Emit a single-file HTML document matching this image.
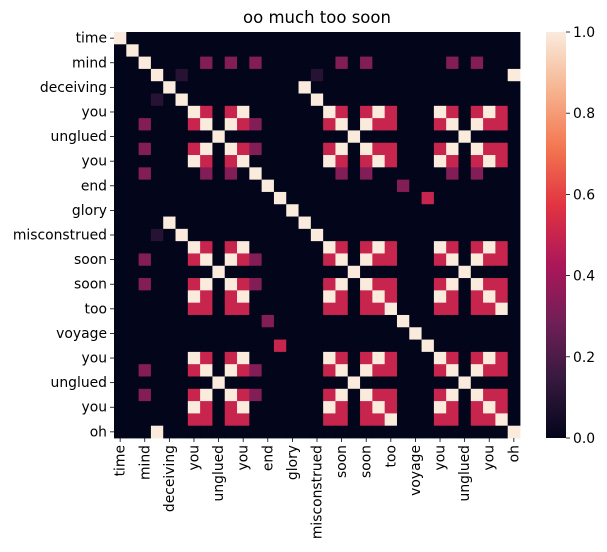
<!DOCTYPE html>
<html><head><meta charset="utf-8"><style>
html,body{margin:0;padding:0;background:#fff;}
svg{display:block;font-family:"DejaVu Sans","Liberation Sans",sans-serif;}
</style></head><body>
<svg id="chart" width="607" height="552" viewBox="0 0 607 552" xmlns="http://www.w3.org/2000/svg">
<rect width="607" height="552" fill="#fff"/>
<text x="317" y="23" text-anchor="middle" font-size="16.5" fill="#000">oo much too soon</text>
<g id="cells"></g>
<g id="yaxis"></g>
<g id="xaxis"></g>
<defs><linearGradient id="cbgrad" x1="0" y1="1" x2="0" y2="0"></linearGradient></defs>
<g id="cbar"></g>
</svg>
<script>
const words = ["time","is","mind","oh","deceiving","misconstrued","you","soon","unglued","soon","you","noon","end","gory","glory","deceiving","misconstrued","you","soon","unglued","soon","you","too","blend","voyage","joy","you","soon","unglued","soon","you","too","oh"];
const youIdx = [6,10,17,21,26,30];
const soonIdx = [7,9,18,20,27,29];
const ungluedIdx = [8,19,28];
const tooIdx = [22,31];
const mindIdx = [2];
const noonIdx = [11];
const groupPairs = [["you","you",1],["soon","soon",1],["unglued","unglued",1],["too","too",1],["you","soon",0.5],["you","too",0.5],["soon","too",0.5],["mind","soon",0.33],["noon","soon",0.33],["mind","noon",0.33]];
const singlePairs = [[3,32,1],[4,15,1],[5,16,1],[3,5,0.1],[3,16,0.1],[12,23,0.33],[13,25,0.5]];
const cbTicks = [0,0.2,0.4,0.6,0.8,1.0];
const cbTickLabels = ["0.0","0.2","0.4","0.6","0.8","1.0"];

const groups = {you:youIdx, soon:soonIdx, unglued:ungluedIdx, too:tooIdx, mind:mindIdx, noon:noonIdx};
const N = words.length;
const M = [];
for (let i=0;i<N;i++){ M.push(new Array(N).fill(0)); M[i][i]=1; }
groupPairs.forEach(([a,b,v])=>{ groups[a].forEach(i=>groups[b].forEach(j=>{ M[i][j]=v; M[j][i]=v; })); });
singlePairs.forEach(([i,j,v])=>{ M[i][j]=v; M[j][i]=v; });

const stops = [[0,[3,5,26]],[1/7,[53,25,62]],[2/7,[112,31,87]],[3/7,[173,23,89]],[4/7,[225,51,66]],[5/7,[243,118,81]],[6/7,[246,180,143]],[1,[250,235,221]]];
function cmap(v){
  for(let k=0;k<stops.length-1;k++){
    const [a,ca]=stops[k],[b,cb]=stops[k+1];
    if(v<=b){const t=(v-a)/(b-a);return "rgb("+ca.map((c,n)=>Math.round(c+(cb[n]-c)*t)).join(",")+")";}
  }
  return "rgb(250,235,221)";
}
const L=114,T=32,W=406,H=406;
const cw=W/N, ch=H/N;
const xs=i=>L+i*cw, ys=i=>T+i*ch;
const NS="http://www.w3.org/2000/svg";
const cells=document.getElementById('cells');
for(let i=0;i<N;i++)for(let j=0;j<N;j++){
  const r=document.createElementNS(NS,'rect');
  r.setAttribute('x',xs(j));r.setAttribute('y',ys(i));
  r.setAttribute('width',cw+0.4);r.setAttribute('height',ch+0.4);
  r.setAttribute('fill',cmap(M[i][j]));
  
  
  cells.appendChild(r);
}
const ya=document.getElementById('yaxis'), xa=document.getElementById('xaxis');
for(let i=0;i<N;i+=2){
  const cy=ys(i)+ch/2;
  const t=document.createElementNS(NS,'line');
  t.setAttribute('x1',L-4);t.setAttribute('x2',L);t.setAttribute('y1',cy);t.setAttribute('y2',cy);
  t.setAttribute('stroke','#000');t.setAttribute('stroke-width','0.8');
  
  
  ya.appendChild(t);
  const tx=document.createElementNS(NS,'text');
  tx.setAttribute('x',L-7);tx.setAttribute('y',cy+4.5);tx.setAttribute('text-anchor','end');
  tx.setAttribute('font-size','13.9');tx.textContent=words[i];
  
  
  ya.appendChild(tx);
  const cx=xs(i)+cw/2;
  const t2=document.createElementNS(NS,'line');
  t2.setAttribute('x1',cx);t2.setAttribute('x2',cx);t2.setAttribute('y1',T+H);t2.setAttribute('y2',T+H+4);
  t2.setAttribute('stroke','#000');t2.setAttribute('stroke-width','0.8');
  
  
  xa.appendChild(t2);
  const tx2=document.createElementNS(NS,'text');
  tx2.setAttribute('transform','translate('+(cx+4.5)+','+(T+H+7)+') rotate(-90)');
  tx2.setAttribute('text-anchor','end');tx2.setAttribute('font-size','13.9');tx2.textContent=words[i];
  
  
  xa.appendChild(tx2);
}
const grad=document.getElementById('cbgrad');
stops.forEach(([p,c])=>{const s=document.createElementNS(NS,'stop');s.setAttribute('offset',p);s.setAttribute('stop-color','rgb('+c.join(',')+')');grad.appendChild(s);});
const cb=document.getElementById('cbar');
const CX=546,CW=20,CT=32,CH=406;
const cr=document.createElementNS(NS,'rect');
cr.setAttribute('x',CX);cr.setAttribute('y',CT);cr.setAttribute('width',CW);cr.setAttribute('height',CH);cr.setAttribute('fill','url(#cbgrad)');


cb.appendChild(cr);
cbTicks.forEach((v,k)=>{
  const y=CT+CH-v*CH;
  const l=document.createElementNS(NS,'line');
  l.setAttribute('x1',CX+CW);l.setAttribute('x2',CX+CW+4);l.setAttribute('y1',y);l.setAttribute('y2',y);
  l.setAttribute('stroke','#000');l.setAttribute('stroke-width','0.8');
  
  
  cb.appendChild(l);
  const t=document.createElementNS(NS,'text');
  t.setAttribute('x',CX+CW+7);t.setAttribute('y',y+5);t.setAttribute('font-size','13.9');t.textContent=cbTickLabels[k];
  
  
  cb.appendChild(t);
});
</script>
</body></html>
